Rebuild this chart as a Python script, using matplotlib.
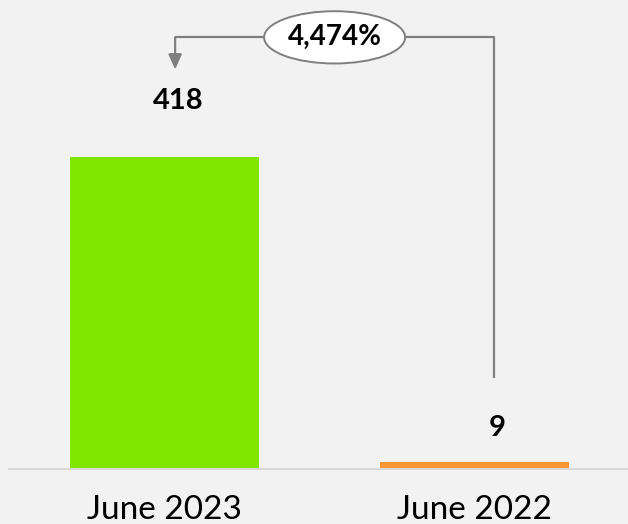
import matplotlib
matplotlib.use('Agg')
import matplotlib.pyplot as plt
from matplotlib.patches import Ellipse

# values by period
periods = ['June 2023', 'June 2022']
counts = [418, 9]
bar_colors = ['#7EE600', '#FF9636']
growth_label = '4,474%'

plt.rcParams['font.family'] = ['Lato', 'DejaVu Sans']
bg = '#F2F2F2'

fig = plt.figure(figsize=(6.28, 5.24), dpi=100, facecolor=bg)
ax = fig.add_axes([9 / 628, 55 / 524, 619 / 628, 469 / 524], facecolor=bg)

x = list(range(len(periods)))
ax.bar(x, counts, width=0.61, color=bar_colors, zorder=2)
ax.set_xlim(-0.502, 1.495)
ax.set_ylim(0, 628)

for spine in ['top', 'right', 'left']:
    ax.spines[spine].set_visible(False)
ax.spines['bottom'].set_color('#D9D9D9')
ax.spines['bottom'].set_linewidth(1.5)
ax.set_yticks([])
ax.set_xticks(x)
ax.set_xticklabels(periods, fontsize=24)
ax.tick_params(axis='x', length=0, pad=19)

# value labels
label_offsets = [(10, 40), (16, 25)]
for xi, v, off in zip(x, counts, label_offsets):
    ax.annotate(str(v), (xi, v), xytext=off, textcoords='offset points',
                ha='center', va='center', fontsize=21, fontweight='bold')

# growth bracket from the 2022 bar to the 2023 bar
gray = '#7F7F7F'
top = max(counts) + 160
left_x, right_x = x[0] + 0.034, x[1] + 0.063
ax.plot([right_x, right_x, left_x], [counts[1] + 113, top, top],
        color=gray, lw=1.6, solid_capstyle='butt', zorder=1)
ax.annotate('', xy=(left_x, counts[0] + 117), xytext=(left_x, top),
            arrowprops=dict(arrowstyle='-|>,head_length=0.9,head_width=0.4',
                            color=gray, lw=1.6, shrinkA=0, shrinkB=0))
mid = (left_x + right_x) / 2
ax.add_patch(Ellipse((mid, top), 0.455, 70, facecolor='white',
                     edgecolor=gray, lw=1.4, zorder=3))
ax.text(mid, top, growth_label, ha='center', va='center', fontsize=20,
        fontweight='bold', zorder=4)

fig.savefig('out.png', dpi=100, facecolor=bg)
